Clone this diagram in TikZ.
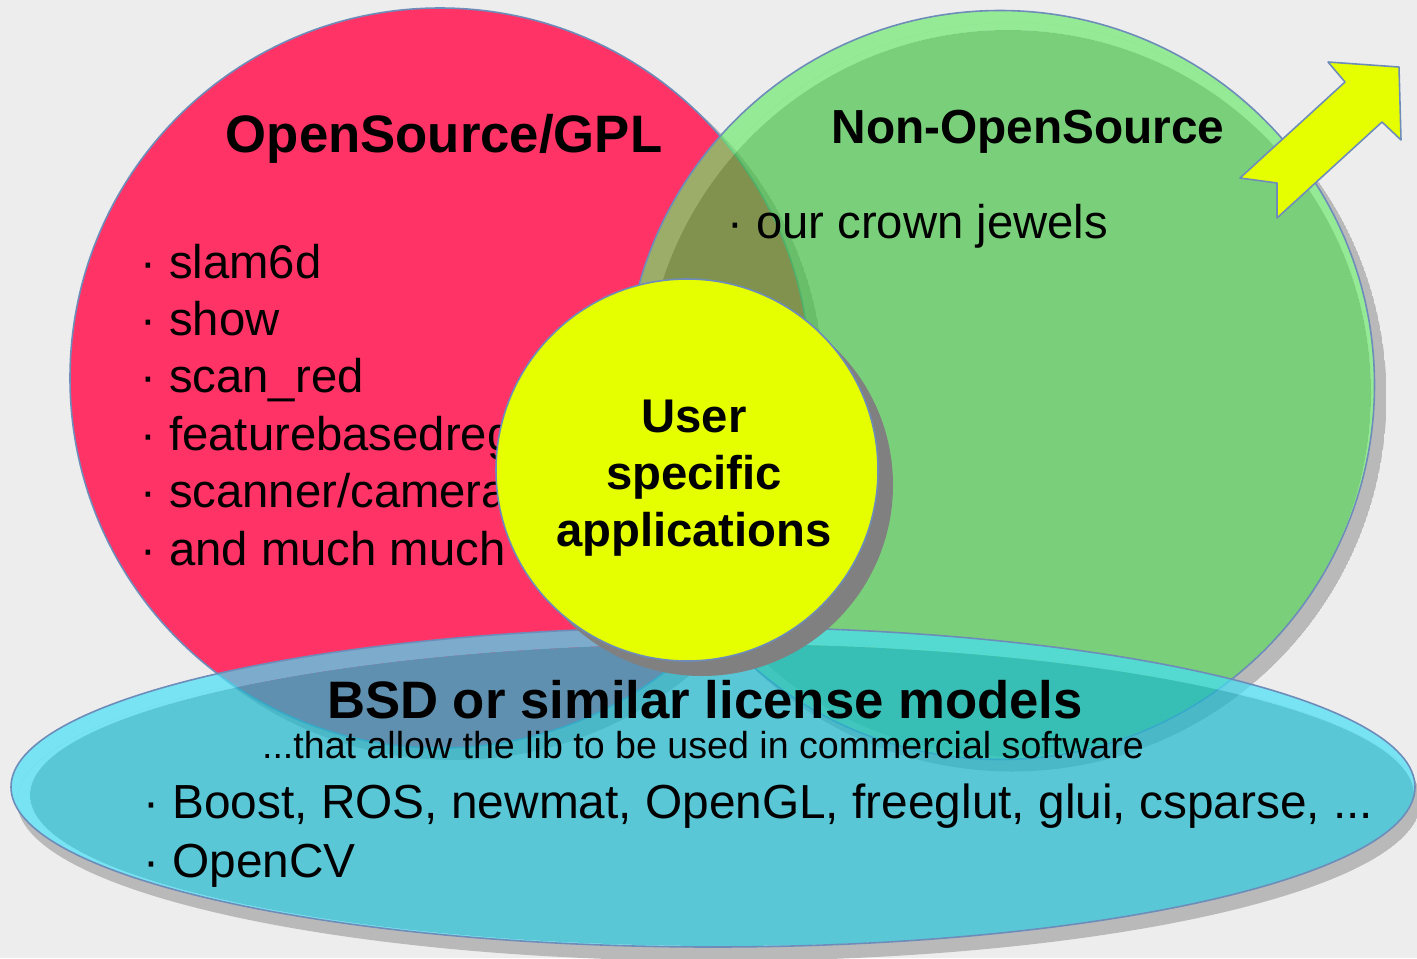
\documentclass[tikz,border=0pt]{standalone}
\usepackage{fontspec}
\setmainfont{Liberation Sans}

\definecolor{bgcol}{RGB}{237,237,237}
\definecolor{gplred}{RGB}{255,51,102}
\definecolor{ownrim}{RGB}{107,234,107}
\definecolor{owngreen}{RGB}{66,194,66}
\definecolor{bsdrim}{RGB}{69,223,246}
\definecolor{bsdblue}{RGB}{29,184,207}
\definecolor{appyellow}{RGB}{229,255,0}
\definecolor{edgeblue}{RGB}{110,140,185}
\definecolor{shadowlight}{RGB}{185,185,185}
\definecolor{shadowdark}{RGB}{128,128,128}

\tikzset{
  outline/.style={draw=edgeblue, line width=0.9pt},
  title/.style={font=\bfseries\fontsize{30}{36}\selectfont, inner sep=0pt, anchor=base},
  item/.style={font=\fontsize{26.9}{32}\selectfont, inner sep=0pt, anchor=base west},
  remark/.style={font=\fontsize{21.4}{26}\selectfont, inner sep=0pt, anchor=base},
}

\begin{document}
\begin{tikzpicture}[x=0.02cm, y=-0.02cm]

% Define points
% R is the centre of the red circle (GPL)
% G is the centre of the green circle, Gi the centre of its inner disc
% B is the centre of the blue ellipse, Bi the centre of its inner disc
% Y is the centre of the yellow circle
% the s points are the centres of the shadows

\coordinate (R) at (440, 378);
\coordinate (Rs) at (454, 390);
\coordinate (G) at (1000, 385);
\coordinate (Gi) at (1008, 393);
\coordinate (Gs) at (1012, 397);
\coordinate (B) at (713, 787);
\coordinate (Bi) at (722, 795);
\coordinate (Bs) at (719, 801);
\coordinate (Y) at (687, 470);
\coordinate (Ys) at (702, 485);

% Background of the slide
\useasboundingbox (0, 0) rectangle (1417, 958);
\fill[bgcol] (0, 0) rectangle (1417, 958);

% Shadow of the red circle (only the part outside the circle)
\begin{scope}
  \clip (Rs) circle[radius=370];
  \fill[shadowlight, even odd rule] (Rs) circle[radius=370] (R) circle[radius=370];
\end{scope}

% Shadow of the green circle
\begin{scope}
  \clip (Gs) circle[radius=374.5];
  \fill[shadowlight, even odd rule] (Gs) circle[radius=374.5] (G) circle[radius=374.5];
\end{scope}

% Shadow of the blue ellipse
\begin{scope}
  \clip (Bs) ellipse[x radius=702, y radius=160];
  \fill[shadowlight, even odd rule] (Bs) ellipse[x radius=702, y radius=160]
    (B) ellipse[x radius=702, y radius=160];
\end{scope}

% Draw the red circle
\fill[gplred] (R) circle[radius=370];
\draw[outline] (R) circle[radius=370];

% Draw the green circle (light rim at the top, then the disc)
\begin{scope}
  \clip (G) circle[radius=374.5];
  \fill[ownrim, fill opacity=0.67, even odd rule] (G) circle[radius=374.5] (Gi) circle[radius=363];
  \fill[owngreen, fill opacity=0.67] (Gi) circle[radius=363];
\end{scope}
\draw[outline] (G) circle[radius=374.5];

% Label the red circle
\node[title] (gpl) at (444, 152) {OpenSource/GPL};

% List of the red circle
\foreach \txt [count=\i] in {slam6d, show, scan\_red, featurebasedreg, scanner/camera, and much much}
  \node[item] (gpl\i) at (140, {278 + 57.4*(\i-1)}) {· \txt};

% Label the green circle
\node[title, font=\bfseries\fontsize{27.2}{32}\selectfont] (own) at (1028, 143) {Non-OpenSource};
\node[item] (own1) at (727, 238) {· our crown jewels};

% Draw the blue ellipse
\begin{scope}
  \clip (B) ellipse[x radius=702, y radius=160];
  \fill[bsdrim, fill opacity=0.7, even odd rule] (B) ellipse[x radius=702, y radius=160]
    (Bi) ellipse[x radius=692, y radius=151];
  \fill[bsdblue, fill opacity=0.7] (Bi) ellipse[x radius=692, y radius=151];
\end{scope}
\draw[outline] (B) ellipse[x radius=702, y radius=160];

% Draw the yellow circle with its shadow
\fill[shadowdark] (Ys) circle[radius=191];
\fill[appyellow] (Y) circle[radius=191];
\draw[outline] (Y) circle[radius=191];

% Label the yellow circle
\node[font=\bfseries\fontsize{26.9}{32.6}\selectfont, align=center, inner sep=0pt] (app)
  at (694, 478) {User\\specific\\applications};

% Label the blue ellipse
\node[title] (bsd) at (705, 718) {BSD or similar license models};
\node[remark] (bsdnote) at (703, 758) {...that allow the lib to be used in commercial software};
\node[item, font=\fontsize{27.2}{32}\selectfont] (bsd1) at (143, 818) {· Boost, ROS, newmat, OpenGL, freeglut, glui, csparse, ...};
\node[item, font=\fontsize{27.2}{32}\selectfont] (bsd2) at (143, 877) {· OpenCV};

% Draw the arrow in the top right corner
\draw[outline, fill=appyellow, line join=round]
  (1240, 178) -- (1277, 183) -- (1277, 218) -- (1382, 122) -- (1401, 140)
  -- (1399, 67) -- (1328, 62) -- (1345, 82) -- cycle;

\end{tikzpicture}
\end{document}
